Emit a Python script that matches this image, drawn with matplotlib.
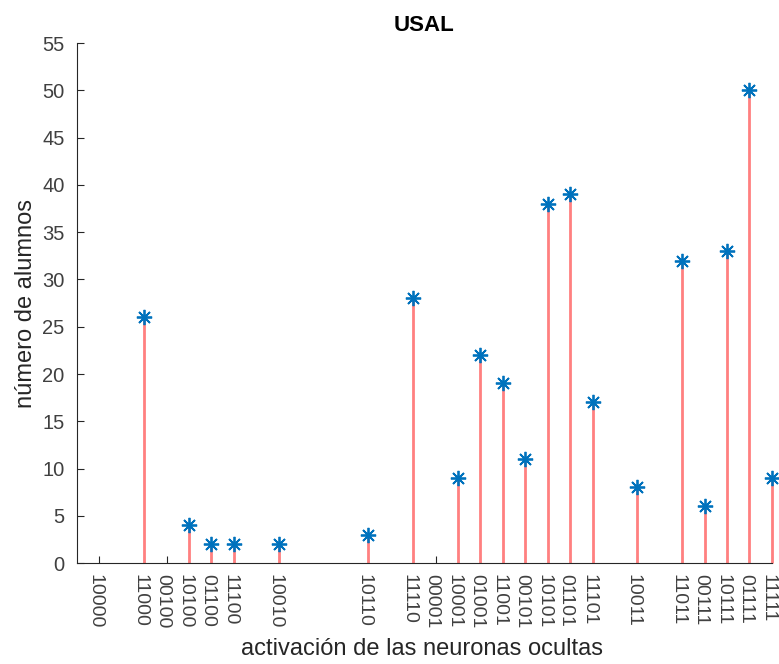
import matplotlib.pyplot as plt
import matplotlib.transforms as mtransforms

plt.rcParams['font.family'] = ['Liberation Sans', 'DejaVu Sans']

# posiciones = valor entero del codigo (bit menos significativo a la izquierda)
codigos = ['10000', '11000', '00100', '10100', '01100', '11100', '10010',
           '10110', '11110', '00001', '10001', '01001', '11001', '00101',
           '10101', '01101', '11101', '10011', '11011', '00111', '10111',
           '01111', '11111']
alumnos = {'11000': 26, '10100': 4, '01100': 2, '11100': 2, '10010': 2,
           '10110': 3, '11110': 28, '10001': 9, '01001': 22, '11001': 19,
           '00101': 11, '10101': 38, '01101': 39, '11101': 17, '10011': 8,
           '11011': 32, '00111': 6, '10111': 33, '01111': 50, '11111': 9}


def posicion(c):
    return int(c[::-1], 2)


xt = [posicion(c) for c in codigos]
xs = [posicion(c) for c in alumnos]
ys = list(alumnos.values())

fig = plt.figure(figsize=(7.79, 6.64), dpi=100)
ax = fig.add_axes([0.0988, 0.152, 0.892, 0.783])

ax.vlines(xs, 0, ys, color='#ff8080', linewidth=2.0, zorder=2, clip_on=False)
ax.plot(xs, ys, linestyle='none', marker=(8, 2, 0), markersize=11,
        color='#0072bd', markeredgewidth=1.3, zorder=3, clip_on=False)

ax.set_xlim(0, 31)
ax.set_ylim(0, 55)
ax.set_yticks(range(0, 56, 5))
ax.set_xticks(xt)
ax.set_xticklabels(codigos, rotation=-90)

for s in ['top', 'right']:
    ax.spines[s].set_visible(False)
for s in ['left', 'bottom']:
    ax.spines[s].set_color('#262626')
ax.tick_params(direction='in', length=5, colors='#262626', labelsize=14.5,
               labelcolor='#404040')
ax.tick_params(axis='x', pad=8, labelsize=14)
ax.tick_params(axis='y', pad=9)

# etiquetas un poco a la izquierda, como en el original
desplaz = mtransforms.ScaledTranslation(-4 / 100, 0, fig.dpi_scale_trans)
for lab in ax.get_xticklabels():
    lab.set_transform(lab.get_transform() + desplaz)

ax.set_title('USAL', fontsize=16, fontweight='bold', pad=9)
ax.set_xlabel('activación de las neuronas ocultas', fontsize=17, color='#262626')
ax.set_ylabel('número de alumnos', fontsize=17, color='#262626')
ax.xaxis.set_label_coords(0.497, -0.145)
ax.yaxis.set_label_coords(-0.057, 0.5)

fig.savefig('out.png', dpi=100)
